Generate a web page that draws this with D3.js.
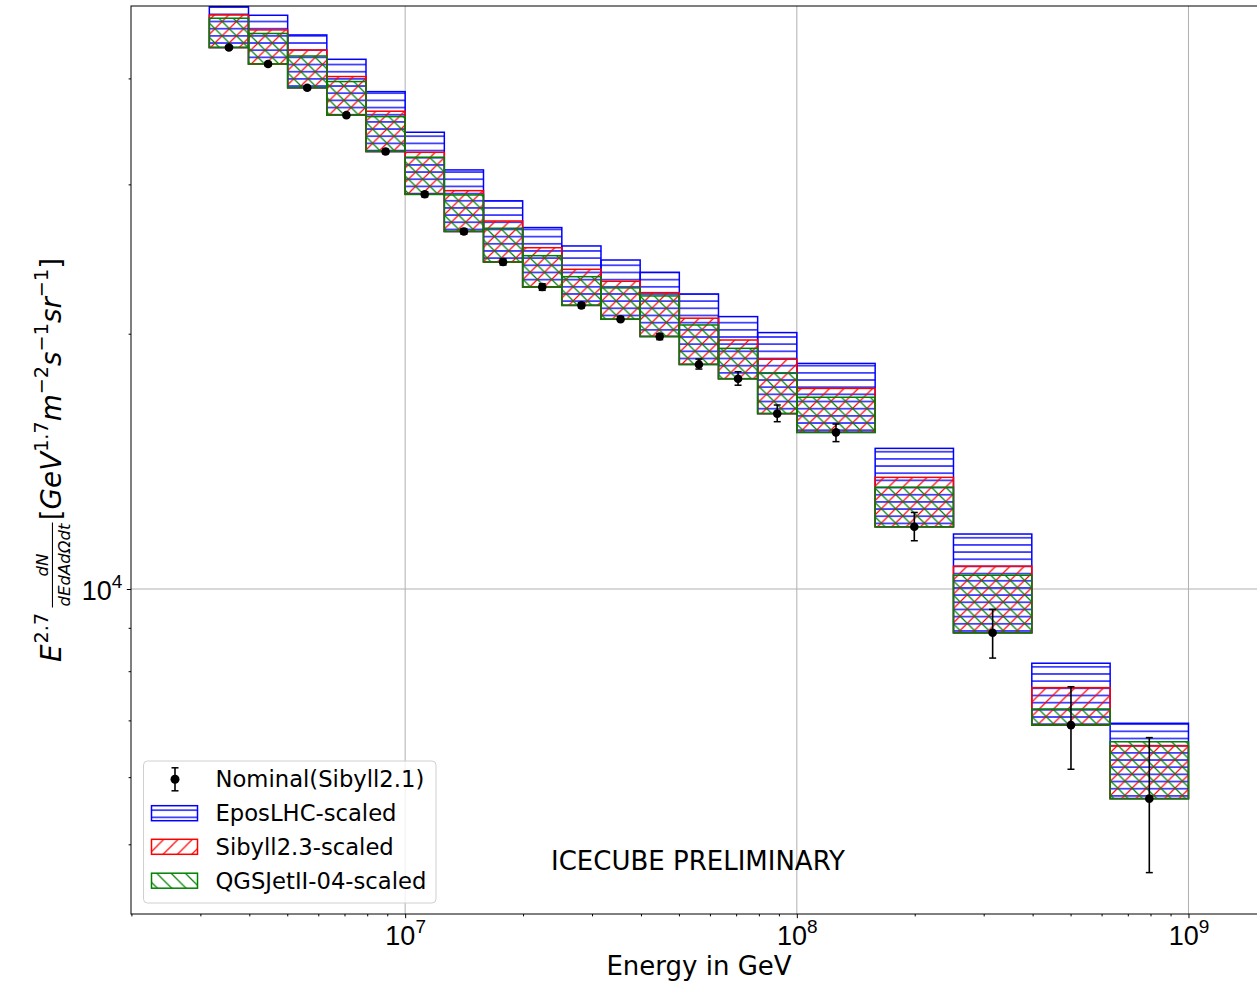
<!DOCTYPE html>
<html>
<head>
<meta charset="utf-8">
<script src="https://cdn.jsdelivr.net/npm/d3@7"></script>
<style>
  html, body { margin: 0; padding: 0; background: #fff; }
  svg { display: block; font-family: "DejaVu Sans", sans-serif; }
</style>
</head>
<body>
<svg id="chart" width="1257" height="983"></svg>
<script>
// Energy bin edges, log10(E / GeV)
const binEdges = [6.5, 6.6, 6.7, 6.8, 6.9, 7.0, 7.1, 7.2, 7.3, 7.4, 7.5, 7.6, 7.7, 7.8, 7.9, 8.0, 8.2, 8.4, 8.6, 8.8, 9.0];

// Nominal flux (Sibyll2.1) with statistical error bar ends
const nominal     = [43500, 41600, 39000, 36200, 32800, 29200, 26400, 24300, 22700, 21600, 20800, 19850, 18400, 17700, 16100, 15300, 11840, 8880, 6910, 5660];
const nominalLow  = [43300, 41400, 38800, 36000, 32600, 29000, 26200, 24100, 22500, 21450, 20700, 19680, 18170, 17390, 15750, 14920, 11400, 8290, 6130, 4630];
const nominalHigh = [43700, 41800, 39200, 36400, 33000, 29400, 26600, 24500, 22900, 21750, 20950, 20000, 18670, 18040, 16480, 15650, 12310, 9460, 7670, 6680];

// Flux after rescaling to each hadronic model (upper edge of each band; lower edge is the nominal flux)
const eposTop     = [48600, 47480, 45010, 42130, 38590, 34560, 31200, 28690, 26680, 25380, 24430, 23630, 22280, 20950, 20060, 18450, 14650, 11610, 8175, 6945];
const sibyll23Top = [47520, 45630, 43210, 40200, 36590, 32730, 29490, 27160, 25260, 23820, 23060, 22360, 20860, 19660, 18660, 17240, 13540, 10640, 7650, 6530];
const qgsjetTop   = [47100, 45190, 42510, 39660, 36060, 32290, 29150, 26630, 24720, 23350, 22650, 22160, 20480, 19220, 17960, 16830, 13180, 10380, 7220, 6605];

const seriesNames = ["Nominal(Sibyll2.1)", "EposLHC-scaled", "Sibyll2.3-scaled", "QGSJetII-04-scaled"];
const xMajorTicks = [1e7, 1e8, 1e9];
const yMajorTicks = [1e4];

const svg = d3.select("#chart");
const plot = { left: 131, top: 6, right: 1266.8, bottom: 914 };

const x = d3.scaleLog().domain([Math.pow(10, 6.3), Math.pow(10, 9.2)]).range([plot.left, plot.right]);
const y = d3.scaleLog().domain([4138, 48690]).range([plot.bottom, plot.top]);

const defs = svg.append("defs");
defs.append("clipPath").attr("id", "plot-clip").append("rect")
  .attr("x", plot.left).attr("y", plot.top)
  .attr("width", plot.right - plot.left).attr("height", plot.bottom - plot.top);

// Hatch patterns, anchored to the page so they line up across boxes
const hs = 7.17, ds = 14.33, hw = 1.2;
defs.append("pattern").attr("id", "hatch-h").attr("patternUnits", "userSpaceOnUse")
  .attr("x", 0).attr("y", -hs / 2).attr("width", 40).attr("height", hs)
  .append("path").attr("d", `M-1,${hs / 2}H41`).attr("stroke", "blue").attr("stroke-width", hw);
defs.append("pattern").attr("id", "hatch-ne").attr("patternUnits", "userSpaceOnUse")
  .attr("width", ds).attr("height", ds)
  .append("path")
  .attr("d", `M0,${ds}L${ds},0M${-ds / 2},${ds / 2}L${ds / 2},${-ds / 2}M${ds / 2},${ds * 1.5}L${ds * 1.5},${ds / 2}`)
  .attr("stroke", "red").attr("stroke-width", hw);
defs.append("pattern").attr("id", "hatch-nw").attr("patternUnits", "userSpaceOnUse")
  .attr("width", ds).attr("height", ds)
  .append("path")
  .attr("d", `M0,0L${ds},${ds}M${-ds / 2},${ds / 2}L${ds / 2},${ds * 1.5}M${ds / 2},${-ds / 2}L${ds * 1.5},${ds / 2}`)
  .attr("stroke", "green").attr("stroke-width", hw);

// Grid
const grid = svg.append("g").attr("clip-path", "url(#plot-clip)");
grid.selectAll("line.gx").data(xMajorTicks).join("line")
  .attr("x1", d => x(d)).attr("x2", d => x(d))
  .attr("y1", plot.top).attr("y2", plot.bottom)
  .attr("stroke", "#b0b0b0").attr("stroke-width", 1);
grid.selectAll("line.gy").data(yMajorTicks).join("line")
  .attr("x1", plot.left).attr("x2", plot.right)
  .attr("y1", d => y(d)).attr("y2", d => y(d))
  .attr("stroke", "#b0b0b0").attr("stroke-width", 1);

// Model bands
const bins = d3.range(nominal.length).map(i => ({
  lo: Math.pow(10, binEdges[i]),
  hi: Math.pow(10, binEdges[i + 1]),
  mid: Math.pow(10, (binEdges[i] + binEdges[i + 1]) / 2),
  nominal: nominal[i], low: nominalLow[i], high: nominalHigh[i],
  epos: eposTop[i], sib: sibyll23Top[i], qgs: qgsjetTop[i]
}));

const models = [
  { key: "epos", color: "blue", pattern: "hatch-h" },
  { key: "sib", color: "red", pattern: "hatch-ne" },
  { key: "qgs", color: "green", pattern: "hatch-nw" }
];

const bands = svg.append("g").attr("clip-path", "url(#plot-clip)");
models.forEach(m => {
  bands.append("g").selectAll("rect").data(bins).join("rect")
    .attr("x", d => x(d.lo))
    .attr("width", d => x(d.hi) - x(d.lo))
    .attr("y", d => y(d[m.key]))
    .attr("height", d => y(d.nominal) - y(d[m.key]))
    .attr("fill", `url(#${m.pattern})`)
    .attr("stroke", m.color).attr("stroke-width", 1.5);
});

// Nominal points with error bars
const pts = svg.append("g").attr("clip-path", "url(#plot-clip)");
const capW = 3.5;
const pt = pts.selectAll("g").data(bins).join("g");
pt.append("line")
  .attr("x1", d => x(d.mid)).attr("x2", d => x(d.mid))
  .attr("y1", d => y(d.high)).attr("y2", d => y(d.low))
  .attr("stroke", "black").attr("stroke-width", 1.6);
pt.append("line")
  .attr("x1", d => x(d.mid) - capW).attr("x2", d => x(d.mid) + capW)
  .attr("y1", d => y(d.high)).attr("y2", d => y(d.high))
  .attr("stroke", "black").attr("stroke-width", 1.5);
pt.append("line")
  .attr("x1", d => x(d.mid) - capW).attr("x2", d => x(d.mid) + capW)
  .attr("y1", d => y(d.low)).attr("y2", d => y(d.low))
  .attr("stroke", "black").attr("stroke-width", 1.5);
pt.append("circle")
  .attr("cx", d => x(d.mid)).attr("cy", d => y(d.nominal)).attr("r", 4.3)
  .attr("fill", "black");

// Axes
const minorX = [];
[6, 7, 8, 9].forEach(e => { for (let k = 2; k <= 9; k++) { const v = k * Math.pow(10, e); if (v > x.domain()[0] && v < x.domain()[1]) minorX.push(v); } });
const minorY = [];
[3, 4].forEach(e => { for (let k = 2; k <= 9; k++) { const v = k * Math.pow(10, e); if (v > y.domain()[0] && v < y.domain()[1]) minorY.push(v); } });

function styleAxis(g) {
  g.select(".domain").remove();
  g.selectAll(".tick line").attr("stroke", "black").attr("stroke-width", 1);
}

svg.append("g").attr("transform", `translate(0,${plot.bottom})`)
  .call(d3.axisBottom(x).tickValues(minorX).tickSize(2.4).tickFormat(""))
  .call(styleAxis);
const xMaj = svg.append("g").attr("transform", `translate(0,${plot.bottom})`)
  .call(d3.axisBottom(x).tickValues(xMajorTicks).tickSize(4.2).tickFormat(""))
  .call(styleAxis);
xMaj.selectAll(".tick").each(function (d) {
  const t = d3.select(this).append("text")
    .attr("y", 31).attr("text-anchor", "middle").attr("fill", "black")
    .style("font-size", "27px");
  t.append("tspan").text("10");
  t.append("tspan").attr("dy", -12).style("font-size", "19px").text(String(Math.round(Math.log10(d))));
});

svg.append("g").attr("transform", `translate(${plot.left},0)`)
  .call(d3.axisLeft(y).tickValues(minorY).tickSize(2.4).tickFormat(""))
  .call(styleAxis);
const yMaj = svg.append("g").attr("transform", `translate(${plot.left},0)`)
  .call(d3.axisLeft(y).tickValues(yMajorTicks).tickSize(4.2).tickFormat(""))
  .call(styleAxis);
yMaj.selectAll(".tick").each(function (d) {
  const t = d3.select(this).append("text")
    .attr("x", -8.6).attr("y", 10).attr("text-anchor", "end").attr("fill", "black")
    .style("font-size", "27px");
  t.append("tspan").text("10");
  t.append("tspan").attr("dy", -12).style("font-size", "19px").text(String(Math.round(Math.log10(d))));
});

// Frame
svg.append("rect")
  .attr("x", plot.left).attr("y", plot.top)
  .attr("width", plot.right - plot.left).attr("height", plot.bottom - plot.top)
  .attr("fill", "none").attr("stroke", "black").attr("stroke-width", 1);

// Axis titles
svg.append("text").attr("x", 699).attr("y", 975).attr("text-anchor", "middle")
  .style("font-size", "26px").text("Energy in GeV");

svg.append("text").attr("x", 698).attr("y", 870).attr("text-anchor", "middle")
  .style("font-size", "26px").text("ICECUBE PRELIMINARY");

// Y-axis title built piece by piece (math-style layout), then rotated
(function yTitle() {
  const outer = svg.append("g");
  const g = outer.append("g");
  let cx = 0;
  function piece(str, size, dy, italic) {
    const t = g.append("text").attr("x", cx).attr("y", dy)
      .style("font-size", size + "px")
      .style("font-style", italic ? "italic" : "normal").text(str);
    const w = t.node().getComputedTextLength();
    cx += w;
    return w;
  }
  piece("E", 26, 0, true);
  cx += 1;
  piece("2.7", 18, -12, false);
  cx += 5;
  // fraction dN / dEdAdΩdt
  const fs = 15.5;
  const num = g.append("text").style("font-size", fs + "px").style("font-style", "italic").text("dN");
  const den = g.append("text").style("font-size", fs + "px").style("font-style", "italic").text("dEdAdΩdt");
  const wn = num.node().getComputedTextLength();
  const wd = den.node().getComputedTextLength();
  const fw = Math.max(wn, wd) + 2;
  num.attr("x", cx + (fw - wn) / 2).attr("y", -12);
  den.attr("x", cx + (fw - wd) / 2).attr("y", 8);
  g.append("line").attr("x1", cx).attr("x2", cx + fw).attr("y1", -8).attr("y2", -8)
    .attr("stroke", "black").attr("stroke-width", 1);
  cx += fw + 2;
  piece("[", 26, 0, false);
  piece("GeV", 26, 0, true);
  piece("1.7", 18, -12, false);
  piece("m", 26, 0, true);
  piece("\u22122", 18, -12, false);
  piece("s", 26, 0, true);
  piece("\u22121", 18, -12, false);
  piece("sr", 26, 0, true);
  piece("\u22121", 18, -12, false);
  piece("]", 26, 0, false);
  const span = 404;
  const k = span / cx;
  g.attr("transform", `scale(${k})`);
  outer.attr("transform", `translate(61,${(plot.top + plot.bottom) / 2 + span / 2}) rotate(-90)`);
})();

// Legend
const lg = svg.append("g");
lg.append("rect").attr("x", 143.5).attr("y", 761).attr("width", 292.5).attr("height", 142)
  .attr("rx", 4).attr("fill", "white").attr("fill-opacity", 0.8)
  .attr("stroke", "#d0d0d0").attr("stroke-width", 1);
const rowY = [779.3, 813.2, 846.8, 880.7];
// errorbar handle
lg.append("line").attr("x1", 175).attr("x2", 175).attr("y1", rowY[0] - 11.5).attr("y2", rowY[0] + 11.5)
  .attr("stroke", "black").attr("stroke-width", 1.6);
[-11.5, 11.5].forEach(o => lg.append("line").attr("x1", 175 - 3.5).attr("x2", 175 + 3.5)
  .attr("y1", rowY[0] + o).attr("y2", rowY[0] + o).attr("stroke", "black").attr("stroke-width", 1.5));
lg.append("circle").attr("cx", 175).attr("cy", rowY[0]).attr("r", 4.5).attr("fill", "black");
// band handles
models.forEach((m, i) => {
  lg.append("rect").attr("x", 151.5).attr("y", rowY[i + 1] - 7.5).attr("width", 46).attr("height", 15)
    .attr("fill", `url(#${m.pattern})`).attr("stroke", m.color).attr("stroke-width", 1.5);
});
lg.selectAll("text.lab").data(seriesNames).join("text")
  .attr("x", 215.5).attr("y", (d, i) => rowY[i] + 8)
  .style("font-size", "22.7px").text(d => d);
</script>
</body>
</html>
